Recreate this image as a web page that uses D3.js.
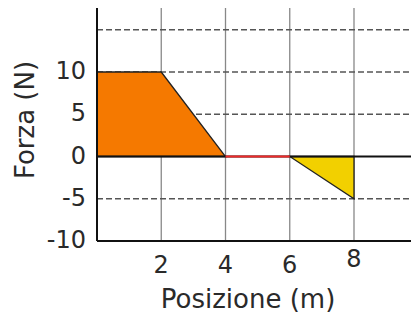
<!DOCTYPE html>
<html lang="it">
<head>
<meta charset="UTF-8">
<title>Forza - Posizione</title>
<script src="https://cdn.jsdelivr.net/npm/d3@7"></script>
<style>
  body { margin: 0; background: #fff; }
  text { font-family: "DejaVu Sans", sans-serif; fill: #2a2a2a; }
</style>
</head>
<body>
<svg id="main" width="411" height="315"></svg>
<script>
// data
const xTicks = [2, 4, 6, 8];
const yTicks = [-10, -5, 0, 5, 10];
const yGrid = [-5, 5, 10, 15];
const orangeArea = [[0, 0], [0, 10], [2, 10], [4, 0]];
const zeroSegment = [[4, 0], [6, 0]];
const yellowArea = [[6, 0], [8, 0], [8, -5]];

const svg = d3.select('svg#main');
const x = d3.scaleLinear().domain([0, 8]).range([97, 354]);
const y = d3.scaleLinear().domain([-10, 10]).range([241, 72]);
const xMax = x.invert(411), yTop = y.invert(8);

const line = d3.line().x(d => x(d[0])).y(d => y(d[1]));

// grid
svg.selectAll('.vgrid').data(xTicks).enter().append('line')
  .attr('x1', d => x(d)).attr('x2', d => x(d))
  .attr('y1', y(yTop)).attr('y2', y(-10))
  .attr('stroke', '#888').attr('stroke-width', 1.3);
svg.selectAll('.hgrid').data(yGrid).enter().append('line')
  .attr('x1', x(0)).attr('x2', x(xMax))
  .attr('y1', d => y(d)).attr('y2', d => y(d))
  .attr('stroke', '#555').attr('stroke-width', 1.3)
  .attr('stroke-dasharray', '6,3');

// areas
svg.append('path').datum(orangeArea)
  .attr('d', d => line(d) + 'Z')
  .attr('fill', '#f57900').attr('stroke', '#222').attr('stroke-width', 1.3);
svg.append('path').datum(yellowArea)
  .attr('d', d => line(d) + 'Z')
  .attr('fill', '#f2d000').attr('stroke', '#222').attr('stroke-width', 1.3);

// zero line
svg.append('line')
  .attr('x1', x(0)).attr('x2', x(xMax)).attr('y1', y(0)).attr('y2', y(0))
  .attr('stroke', '#111').attr('stroke-width', 2);
svg.append('path').datum(zeroSegment).attr('d', line)
  .attr('stroke', '#ef2929').attr('stroke-width', 2).attr('fill', 'none');

// axes lines
svg.append('line')
  .attr('x1', x(0)).attr('x2', x(0)).attr('y1', y(yTop)).attr('y2', y(-10))
  .attr('stroke', '#111').attr('stroke-width', 2);
svg.append('line')
  .attr('x1', x(0)).attr('x2', x(xMax)).attr('y1', y(-10)).attr('y2', y(-10))
  .attr('stroke', '#111').attr('stroke-width', 2);

// tick labels
svg.selectAll('.ylab').data(yTicks).enter().append('text')
  .attr('x', 86).attr('y', d => y(d) + 7)
  .attr('text-anchor', 'end').attr('font-size', 24)
  .text(d => d);
svg.selectAll('.xlab').data(xTicks).enter().append('text')
  .attr('x', d => x(d)).attr('y', d => d === 8 ? 267 : 273)
  .attr('text-anchor', 'middle').attr('font-size', 24)
  .text(d => d);

// titles
svg.append('text')
  .attr('x', 248).attr('y', 308)
  .attr('text-anchor', 'middle').attr('font-size', 26)
  .text('Posizione (m)');
svg.append('text')
  .attr('transform', 'translate(34,120) rotate(-90)')
  .attr('text-anchor', 'middle').attr('font-size', 26)
  .text('Forza (N)');
</script>
</body>
</html>
